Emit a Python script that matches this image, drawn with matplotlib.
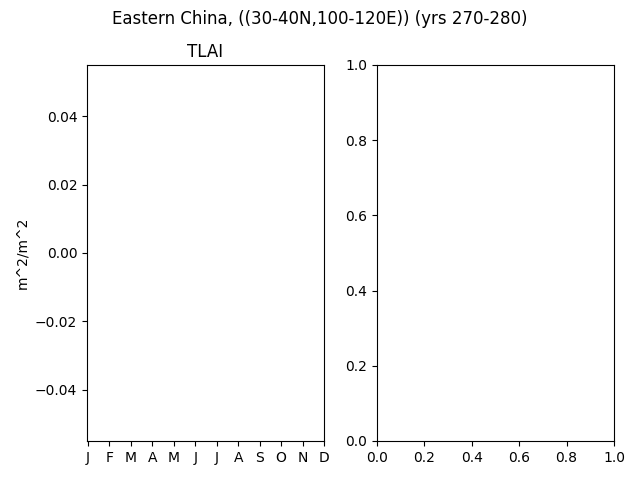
import matplotlib
matplotlib.use("Agg")
import matplotlib.pyplot as plt
import numpy as np

months = ["J", "F", "M", "A", "M", "J", "J", "A", "S", "O", "N", "D"]
tlai_values = [np.nan] * 12

fig, (ax1, ax2) = plt.subplots(1, 2, figsize=(6.4, 4.8), dpi=100)
fig.suptitle("Eastern China, ((30-40N,100-120E)) (yrs 270-280)")

x = np.arange(len(months))
ax1.plot(x, tlai_values)
ax1.set_title("TLAI")
ax1.set_ylabel("m^2/m^2")
ax1.set_xticks(x)
ax1.set_xticklabels(months)
ax1.set_xlim(-0.05, len(months) - 1)
ax1.set_ylim(-0.055, 0.055)

fig.subplots_adjust(left=0.1359, right=0.9594, top=0.8646, bottom=0.0813, wspace=0.224)
fig.savefig("out.png")
